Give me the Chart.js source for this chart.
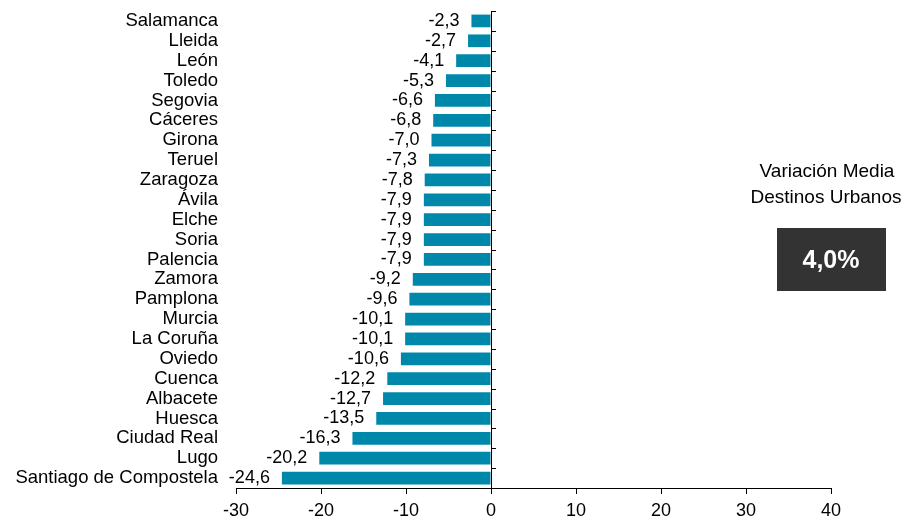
<!DOCTYPE html>
<html>
<head>
<meta charset="utf-8">
<script src="https://cdn.jsdelivr.net/npm/chart.js@4"></script>
<style>
  html, body { margin: 0; padding: 0; background: #fff; }
  #wrap { width: 905px; height: 523px; }
</style>
</head>
<body>
<div id="wrap"><canvas id="ciudadesChart" width="905" height="523"></canvas></div>
<script>
const ciudades = ['Salamanca', 'Lleida', 'León', 'Toledo', 'Segovia', 'Cáceres', 'Girona', 'Teruel',
    'Zaragoza', 'Ávila', 'Elche', 'Soria', 'Palencia', 'Zamora', 'Pamplona', 'Murcia', 'La Coruña',
    'Oviedo', 'Cuenca', 'Albacete', 'Huesca', 'Ciudad Real', 'Lugo', 'Santiago de Compostela'];
const variacion = [-2.3, -2.7, -4.1, -5.3, -6.6, -6.8, -7.0, -7.3, -7.8, -7.9, -7.9, -7.9, -7.9,
    -9.2, -9.6, -10.1, -10.1, -10.6, -12.2, -12.7, -13.5, -16.3, -20.2, -24.6];
const xTicks = [-30, -20, -10, 0, 10, 20, 30, 40];
const mediaTitulo = ['Variación Media', 'Destinos Urbanos'];
const mediaValor = '4,0%';

const FONT = 'Arial, "Liberation Sans", sans-serif';
const fmt = v => v.toFixed(1).replace('.', ',');

// value labels, zero line ticks and the side box
const extrasPlugin = {
    id: 'extras',
    afterDatasetsDraw(chart) {
        const ctx = chart.ctx;
        const xs = chart.scales.x, ys = chart.scales.y;
        const x0 = xs.getPixelForValue(0);
        const area = chart.chartArea;

        ctx.save();
        // zero axis line with category ticks
        ctx.strokeStyle = '#000';
        ctx.lineWidth = 1;
        ctx.beginPath();
        ctx.moveTo(Math.round(x0) + 0.5, area.top);
        ctx.lineTo(Math.round(x0) + 0.5, area.bottom);
        for (let i = 0; i <= ciudades.length; i++) {
            const y = Math.round(ys.getPixelForValue(i - 0.5)) + 0.5;
            ctx.moveTo(Math.round(x0), y);
            ctx.lineTo(Math.round(x0) + 5, y);
        }
        ctx.stroke();

        // value labels
        ctx.fillStyle = '#000';
        ctx.font = '18px ' + FONT;
        ctx.textAlign = 'right';
        ctx.textBaseline = 'middle';
        chart.getDatasetMeta(0).data.forEach((bar, i) => {
            ctx.fillText(fmt(variacion[i]), bar.x - 12, bar.y);
        });

        // side note
        ctx.textAlign = 'center';
        ctx.font = '19px ' + FONT;
        ctx.fillText(mediaTitulo[0], 827, 172);
        ctx.fillText(mediaTitulo[1], 826, 198);
        ctx.fillStyle = '#333333';
        ctx.fillRect(777, 228, 109, 63);
        ctx.fillStyle = '#fff';
        ctx.font = 'bold 25px ' + FONT;
        ctx.fillText(mediaValor, 831, 261);
        ctx.restore();
    }
};

new Chart(document.getElementById('ciudadesChart'), {
    type: 'bar',
    data: {
        labels: ciudades,
        datasets: [{
            data: variacion,
            backgroundColor: '#0088AB',
            borderWidth: 0,
            barPercentage: 0.64,
            categoryPercentage: 1
        }]
    },
    options: {
        indexAxis: 'y',
        responsive: false,
        animation: false,
        layout: { padding: { top: 11, right: 74, left: 0, bottom: 0 } },
        plugins: {
            legend: { display: false },
            tooltip: { enabled: false }
        },
        scales: {
            x: {
                min: -30,
                max: 40,
                afterBuildTicks: scale => { scale.ticks = xTicks.map(v => ({ value: v })); },
                afterFit: scale => { scale.height = 35; },
                grid: {
                    drawOnChartArea: false,
                    drawTicks: true,
                    tickLength: 6,
                    tickColor: '#000'
                },
                border: { display: true, color: '#000', width: 1 },
                ticks: {
                    color: '#000',
                    font: { size: 18, family: FONT },
                    padding: 6,
                    maxRotation: 0
                }
            },
            y: {
                afterFit: scale => {
                    scale.width = 236;
                    scale.paddingTop = 0;
                    scale.paddingBottom = 0;
                },
                grid: { display: false, drawTicks: false },
                border: { display: false },
                ticks: {
                    color: '#000',
                    font: { size: 18.5, family: FONT },
                    padding: 18,
                    autoSkip: false
                }
            }
        }
    },
    plugins: [extrasPlugin]
});
</script>
</body>
</html>
